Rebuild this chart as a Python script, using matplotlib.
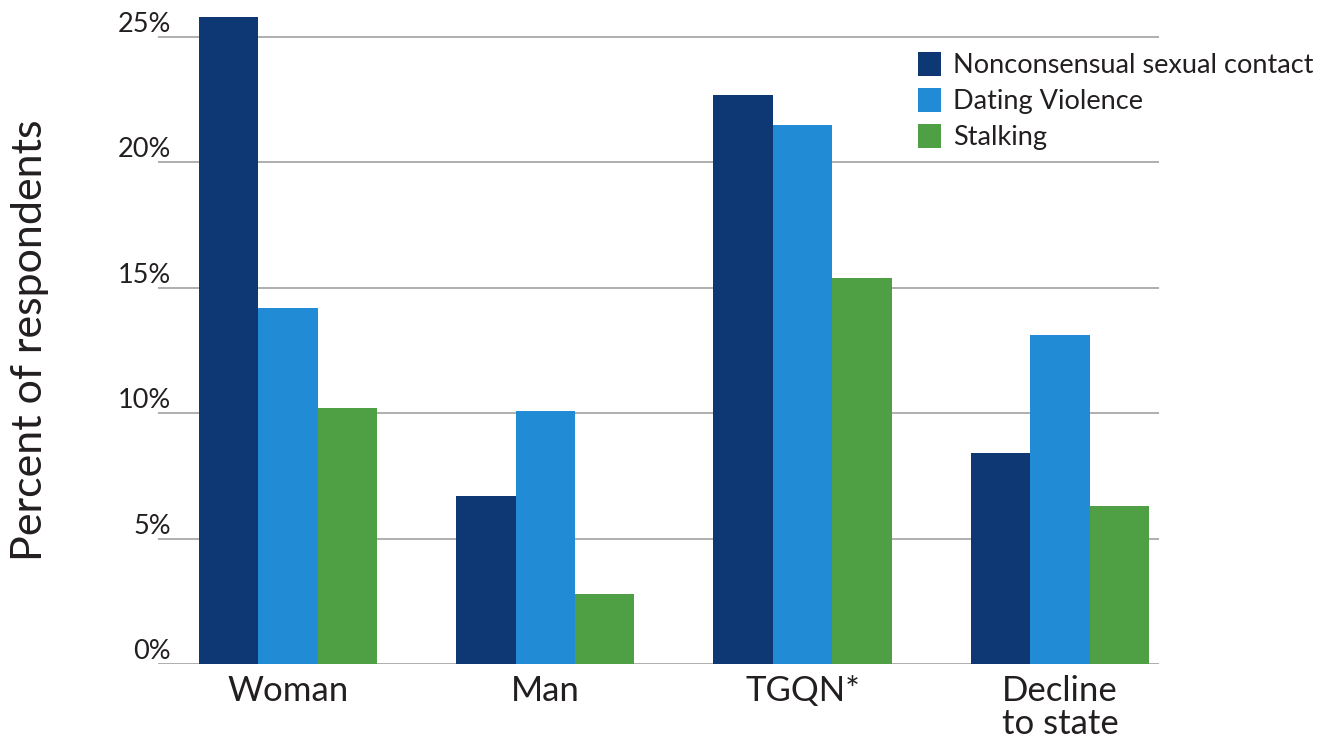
import matplotlib
matplotlib.use("Agg")
import matplotlib.pyplot as plt
import numpy as np

categories = ["Woman", "Man", "TGQN*", "Decline\nto state"]
series_names = ["Nonconsensual sexual contact", "Dating Violence", "Stalking"]
nonconsensual = [25.8, 6.7, 22.7, 8.4]
dating_violence = [14.2, 10.1, 21.5, 13.1]
stalking = [10.2, 2.8, 15.4, 6.3]
yticks = [0, 5, 10, 15, 20, 25]
ytick_labels = ["0%", "5%", "10%", "15%", "20%", "25%"]

colors = ["#0d3873", "#218bd6", "#4fa044"]
plt.rcParams['font.family'] = ['Lato', 'DejaVu Sans']

fig = plt.figure(figsize=(13.25, 7.43), dpi=100)
ax = fig.add_axes([158/1325, 79/743, 1001/1325, 664/743])

x = np.arange(len(categories))
w = 0.231
for i, (vals, name) in enumerate(zip([nonconsensual, dating_violence, stalking], series_names)):
    ax.bar(x + (i - 1) * w, vals, width=w, color=colors[i], label=name, zorder=3, linewidth=0)

ax.set_xlim(-0.505, 3.385)
ax.set_ylim(0, 26.47)
ax.set_yticks(yticks)
ax.set_yticklabels(ytick_labels)
ax.set_xticks(x)
ax.set_xticklabels(categories, fontsize=25, color="#231f20", linespacing=1.05)
for s in ax.spines.values():
    s.set_visible(False)
ax.grid(axis='y', color="#a8a8a8", linewidth=1.3, zorder=0)
ax.tick_params(axis='y', length=0, pad=-9.5, labelsize=19.5, labelcolor="#231f20")
ax.tick_params(axis='x', length=0, pad=8)
for lab in ax.get_yticklabels():
    lab.set_va('bottom')
    lab.set_ha('right')

fig.text(30/1325, 1 - 340/743, "Percent of respondents", rotation=90, fontsize=31,
         color="#231f20", ha='center', va='center')

leg = fig.legend(loc='upper left', bbox_to_anchor=(918/1325, 1 - 52/743), frameon=False,
                 prop={'size': 19.5}, labelspacing=0.36, handlelength=0.86,
                 handleheight=0.97, handletextpad=0.45, borderpad=0, borderaxespad=0)
for t in leg.get_texts():
    t.set_color("#231f20")

fig.savefig("out.png", dpi=100)
